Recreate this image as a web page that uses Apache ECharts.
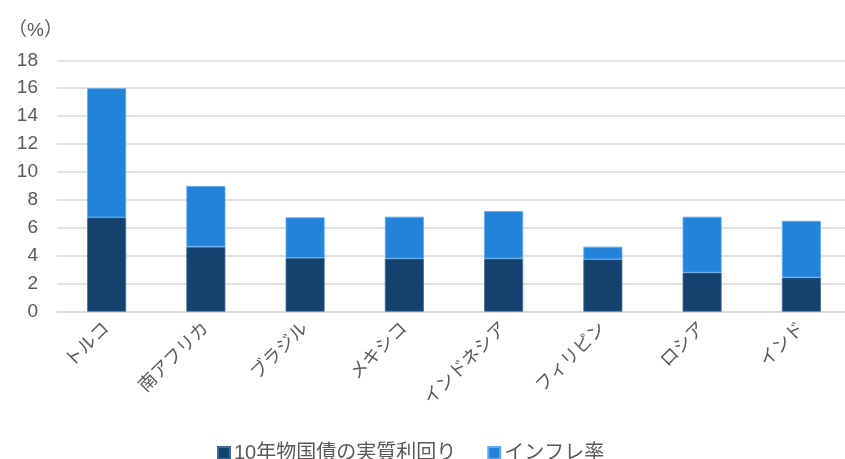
<!DOCTYPE html>
<html>
<head>
<meta charset="utf-8">
<script src="https://cdn.jsdelivr.net/npm/echarts@6/dist/echarts.min.js"></script>
<style>
html,body{margin:0;padding:0;background:#fff;}
#chart{width:845px;height:459px;}
</style>
</head>
<body>
<div id="chart"></div>
<script>
const categories = ['トルコ', '南アフリカ', 'ブラジル', 'メキシコ', 'インドネシア', 'フィリピン', 'ロシア', 'インド'];
const realYield = [6.75, 4.65, 3.85, 3.8, 3.8, 3.75, 2.8, 2.45];
const inflation = [9.25, 4.35, 2.9, 3.0, 3.4, 0.9, 4.0, 4.05];
const seriesNames = ['10年物国債の実質利回り', 'インフレ率'];
const yMin = 0, yMax = 18, yStep = 2;
const unitLabel = '（%）';

const FONT = '"Liberation Sans", "Noto Sans CJK JP", sans-serif';
const chart = echarts.init(document.getElementById('chart'), null, {renderer: 'canvas'});
chart.setOption({
  animation: false,
  backgroundColor: '#ffffff',
  title: {
    text: unitLabel,
    left: 3, top: 16,
    textStyle: {fontFamily: FONT, fontSize: 19, fontWeight: 'normal', color: '#595959'}
  },
  grid: {left: 57, top: 60.3, width: 794, height: 251.4, containLabel: false, outerBoundsMode: 'none'},
  legend: {
    left: 217, top: 443, padding: 0,
    itemWidth: 12, itemHeight: 12, itemGap: 31,
    icon: 'rect',
    textStyle: {fontFamily: FONT, fontSize: 20, color: '#595959', padding: [0, 0, 0, -1]},
    data: seriesNames
  },
  xAxis: {
    type: 'category',
    data: categories,
    boundaryGap: true,
    axisLine: {show: true, lineStyle: {color: '#d9d9d9', width: 1.5}},
    axisTick: {show: false},
    axisLabel: {rotate: 45, margin: 14, fontFamily: FONT, fontSize: 18, color: '#595959', interval: 0}
  },
  yAxis: {
    type: 'value',
    min: yMin, max: yMax, interval: yStep,
    axisLine: {show: false},
    axisTick: {show: false},
    splitLine: {lineStyle: {color: '#d9d9d9', width: 1.5}},
    axisLabel: {margin: 19, fontFamily: FONT, fontSize: 19, color: '#595959'}
  },
  series: [
    {
      name: seriesNames[0], type: 'bar', stack: 'total', barWidth: 39,
      data: realYield,
      itemStyle: {color: '#14426e', borderColor: '#3d6d9c', borderWidth: 0.8}
    },
    {
      name: seriesNames[1], type: 'bar', stack: 'total', barWidth: 39,
      data: inflation,
      itemStyle: {color: '#2382da', borderColor: '#5eaaf0', borderWidth: 0.8}
    }
  ]
});
</script>
</body>
</html>
